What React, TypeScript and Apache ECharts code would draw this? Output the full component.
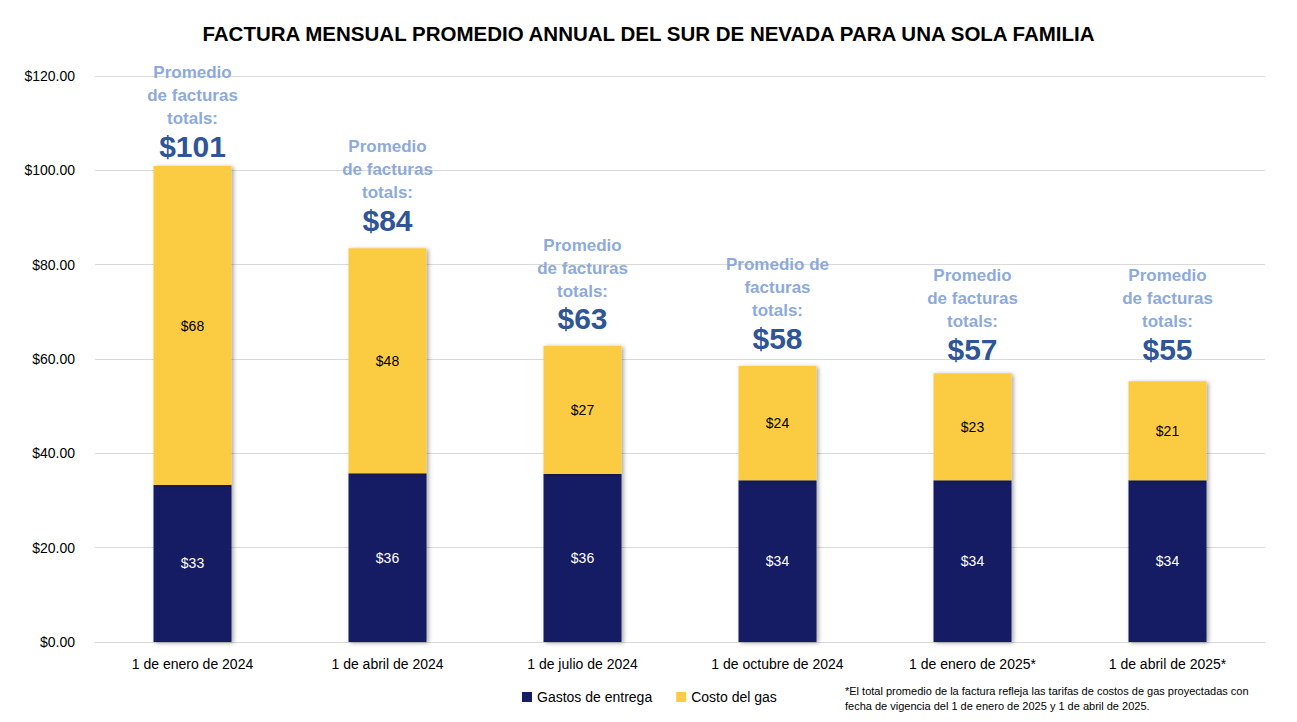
import React, { useEffect, useRef } from "react";
import * as echarts from "echarts";

const categories = [
  "1 de enero de 2024",
  "1 de abril de 2024",
  "1 de julio de 2024",
  "1 de octubre de 2024",
  "1 de enero de 2025*",
  "1 de abril de 2025*",
];
const deliveryValues = [33.3, 35.8, 35.6, 34.3, 34.3, 34.3];
const deliveryLabels = ["$33", "$36", "$36", "$34", "$34", "$34"];
const gasValues = [67.6, 47.7, 27.2, 24.2, 22.7, 21.0];
const gasLabels = ["$68", "$48", "$27", "$24", "$23", "$21"];
const totalLabels = ["$101", "$84", "$63", "$58", "$57", "$55"];
const annotationLines = [
  ["Promedio", "de facturas", "totals:"],
  ["Promedio", "de facturas", "totals:"],
  ["Promedio", "de facturas", "totals:"],
  ["Promedio de", "facturas", "totals:"],
  ["Promedio", "de facturas", "totals:"],
  ["Promedio", "de facturas", "totals:"],
];
const yTicks = { min: 0, max: 120, interval: 20 };
const titleText = "FACTURA MENSUAL PROMEDIO ANNUAL DEL SUR DE NEVADA PARA UNA SOLA FAMILIA";
const legendNames = ["Gastos de entrega", "Costo del gas"];
const footnoteText =
  "*El total promedio de la factura refleja las tarifas de costos de gas proyectadas con\nfecha de vigencia del 1 de enero de 2025 y 1 de abril de 2025.";

// layout: gap (px) between each bar top and its annotation block
const annotationDistances = [4, 12, 11, 12, 8, 16];

const FONT = "'Liberation Sans', Arial, sans-serif";
const NAVY = "#131E63";
const YELLOW = "#FBCB43";

export default function App() {
  const ref = useRef<HTMLDivElement>(null);
  useEffect(() => {
    if (!ref.current) return;
    const chart = echarts.init(ref.current, undefined, { renderer: "svg" });
    const shadow = {
      shadowColor: "rgba(0,0,0,0.35)",
      shadowBlur: 4,
      shadowOffsetX: 2,
      shadowOffsetY: 1,
    };
    chart.setOption({
      animation: false,
      textStyle: { fontFamily: FONT },
      title: {
        text: titleText,
        left: "center",
        top: 18,
        textStyle: { fontFamily: FONT, fontSize: 20.5, fontWeight: "bold", color: "#000" },
      },
      grid: { left: 95, right: 32, top: 76, bottom: 80, containLabel: false },
      legend: {
        data: legendNames,
        left: 517,
        top: 685,
        itemWidth: 10,
        itemHeight: 10,
        itemGap: 24,
        icon: "rect",
        textStyle: { fontFamily: FONT, fontSize: 14, color: "#000" },
      },
      xAxis: {
        type: "category",
        data: categories,
        axisLine: { lineStyle: { color: "#D9D9D9" } },
        axisTick: { show: false },
        axisLabel: { fontFamily: FONT, fontSize: 14, color: "#000", margin: 15 },
      },
      yAxis: {
        type: "value",
        min: yTicks.min,
        max: yTicks.max,
        interval: yTicks.interval,
        axisLine: { show: false },
        axisTick: { show: false },
        splitLine: { lineStyle: { color: "#D9D9D9" } },
        axisLabel: {
          fontFamily: FONT,
          fontSize: 14,
          color: "#000",
          margin: 20,
          formatter: (v: number) => "$" + v.toFixed(2),
        },
      },
      series: [
        {
          name: legendNames[0],
          type: "bar",
          stack: "total",
          barWidth: "40%",
          itemStyle: { color: NAVY, ...shadow },
          data: deliveryValues.map((v, i) => ({
            value: v,
            label: { formatter: deliveryLabels[i] },
          })),
          label: {
            show: true,
            position: "inside",
            color: "#fff",
            fontFamily: FONT,
            fontSize: 14,
          },
        },
        {
          name: legendNames[1],
          type: "bar",
          stack: "total",
          barWidth: "40%",
          itemStyle: { color: YELLOW, ...shadow },
          data: gasValues.map((v, i) => ({
            value: v,
            label: { formatter: gasLabels[i] },
          })),
          label: {
            show: true,
            position: "inside",
            color: "#000",
            fontFamily: FONT,
            fontSize: 14,
          },
        },
        {
          name: "annot",
          type: "bar",
          stack: "total",
          barWidth: "40%",
          silent: true,
          itemStyle: { color: "transparent" },
          data: gasValues.map((_, i) => ({
            value: 0,
            label: {
              distance: annotationDistances[i],
              formatter:
                annotationLines[i].map((l) => `{a|${l}}`).join("\n") + `\n{b|${totalLabels[i]}}`,
            },
          })),
          label: {
            show: true,
            position: "top",
            distance: 4,
            align: "center",
            rich: {
              a: {
                fontFamily: FONT,
                fontSize: 17,
                fontWeight: "bold",
                color: "#8EAADB",
                lineHeight: 23,
                align: "center",
              },
              b: {
                fontFamily: FONT,
                fontSize: 30,
                fontWeight: "bold",
                color: "#2F5597",
                lineHeight: 32,
                align: "center",
              },
            },
          },
        },
      ],
      graphic: [
        {
          type: "text",
          left: 845,
          top: 683,
          style: {
            text: footnoteText,
            fontFamily: FONT,
            fontSize: 11,
            lineHeight: 15,
            fill: "#000",
            align: "center",
          },
        },
      ],
    });
    return () => chart.dispose();
  }, []);
  return <div ref={ref} style={{ width: 1297, height: 722, margin: -8 }} />;
}
